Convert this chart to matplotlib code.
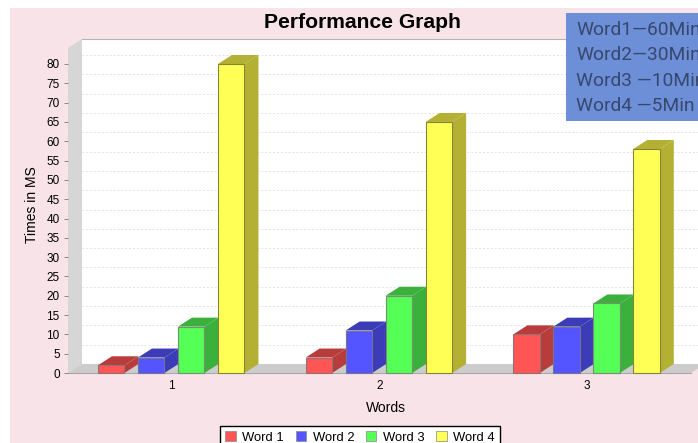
"""Performance graph: faux 3D grouped bars in the JFreeChart look."""
import matplotlib

matplotlib.use("Agg")
import matplotlib.pyplot as plt
from matplotlib.patches import Patch, Polygon, Rectangle

plt.rcParams["font.family"] = ["Liberation Sans", "DejaVu Sans"]

WIDTH, HEIGHT = 698, 443

groups = [1, 2, 3]
series_names = ["Word 1", "Word 2", "Word 3", "Word 4"]
word1 = [2, 4, 10]
word2 = [4, 11, 12]
word3 = [12, 20, 18]
word4 = [80, 65, 58]
y_ticks = list(range(0, 85, 5))
note_lines = ["Word1—60Min", "Word2—30Min", "Word3 —10Min", "Word4 —5Min"]

series = [word1, word2, word3, word4]
front_colors = ["#ff5555", "#5555ff", "#55ff55", "#ffff55"]
side_colors = ["#b83c3c", "#3c3cb8", "#3cb03c", "#b3b034"]
edge_colors = ["#8f7474", "#74748f", "#748f74", "#85853a"]

PINK = "#f8e4e8"
WALL = "#d6d6d6"
FLOOR = "#cccccc"

fig = plt.figure(figsize=(WIDTH / 100, HEIGHT / 100), dpi=100, facecolor="white")
fig.patches.append(Rectangle((10 / WIDTH, 0), 1, 1 - 8 / HEIGHT, transform=fig.transFigure,
                             facecolor=PINK, edgecolor="none", zorder=-1))

# front plane of the plot, in pixels: x 68-691, y 48-373
ax = fig.add_axes([68 / WIDTH, 1 - 373 / HEIGHT, 623 / WIDTH, 325 / HEIGHT])
ax.patch.set_visible(False)
ax.set_xlim(0.5, 3.5)
ax.set_ylim(0, 325 / 3.8625)
for spine in ax.spines.values():
    spine.set_visible(False)

# depth of the fake 3D box, in data units
dx = 14 * 3 / 623
dy = 9 / 3.8625
x0, x1 = ax.get_xlim()
y0, y1 = ax.get_ylim()


def add_poly(points, color, edge="none", z=1.0, lw=0.8):
    ax.add_patch(Polygon(points, closed=True, facecolor=color, edgecolor=edge,
                         linewidth=lw, zorder=z, clip_on=False))


# back wall, side wall, floor
add_poly([(x0 + dx, y0 + dy), (x1 + dx, y0 + dy), (x1 + dx, y1 + dy), (x0 + dx, y1 + dy)], "white", z=1)
ax.plot([x0 + dx, x1 + dx], [y1 + dy, y1 + dy], color="#b5b5b5", lw=0.8, zorder=1.1, clip_on=False)
add_poly([(x0, y0), (x0 + dx, y0 + dy), (x0 + dx, y1 + dy), (x0, y1)], WALL, z=1.2)
add_poly([(x0, y0), (x0 + dx, y0 + dy), (x1 + dx, y0 + dy), (x1, y0)], FLOOR, z=1.2)

for tick in y_ticks[1:]:
    ax.plot([x0 + dx, x1 + dx], [tick + dy, tick + dy], color="#e4e4e4", lw=0.7,
            linestyle=(0, (2, 2)), zorder=1.1, clip_on=False)
ax.plot([x0, x1], [0, 0], color="#a8a8a8", lw=0.8, zorder=1.3, clip_on=False)

bar_w = 26.5 * 3 / 623
pitch = 40 * 3 / 623
z = 2.0
for g_idx, g in enumerate(groups):
    for s_idx, values in enumerate(series):
        val = values[g_idx]
        left = g + (s_idx - 1.5) * pitch - bar_w / 2 - 0.003
        right = left + bar_w
        edge = edge_colors[s_idx]
        add_poly([(left, val), (right, val), (right + dx, val + dy), (left + dx, val + dy)],
                 side_colors[s_idx], z=z)
        add_poly([(right, 0), (right + dx, dy), (right + dx, val + dy), (right, val)],
                 side_colors[s_idx], z=z)
        add_poly([(left, 0), (right, 0), (right, val), (left, val)],
                 front_colors[s_idx], edge=edge, z=z + 0.01)
        z += 0.1

ax.set_xticks(groups)
ax.set_yticks(y_ticks)
ax.tick_params(axis="x", length=0, labelsize=8.5, pad=5)
ax.tick_params(axis="y", length=3, width=0.7, color="#888888", labelsize=8.5, pad=3)
ax.set_xlabel("Words", fontsize=10, va="center")
ax.xaxis.set_label_coords((386 - 68) / 623, -(408 - 373) / 325, transform=ax.transAxes)
ax.set_ylabel("Times in MS", fontsize=10, va="center")
ax.yaxis.set_label_coords((32 - 68) / 623, (373 - 205) / 325, transform=ax.transAxes)

fig.text(362 / WIDTH, 1 - 23 / HEIGHT, "Performance Graph", fontsize=15.2, fontweight="bold",
         ha="center", va="center")

handles = [Patch(facecolor=c, edgecolor="#888888", linewidth=0.5) for c in front_colors]
fig.legend(handles, series_names, loc="lower left",
           bbox_to_anchor=(220 / WIDTH, 1 - 449 / HEIGHT), ncol=4, fontsize=9.4,
           frameon=True, fancybox=False, edgecolor="black", framealpha=1, facecolor="white",
           handlelength=0.8, handleheight=0.8, handletextpad=0.5, columnspacing=0.9,
           borderpad=0.4, borderaxespad=0)

# pasted note in the top right corner
fig.patches.append(Rectangle((566 / WIDTH, 1 - 121 / HEIGHT), 140 / WIDTH, 108 / HEIGHT,
                             transform=fig.transFigure, facecolor="#6d8fd8", edgecolor="none", zorder=5))
for line, y_px in zip(note_lines, [30, 55, 81, 106]):
    fig.text(576 / WIDTH, 1 - y_px / HEIGHT, line, fontsize=13.8, color="#37476e", family="Roboto",
             ha="left", va="center", zorder=6)

fig.savefig("out.png", dpi=100)
